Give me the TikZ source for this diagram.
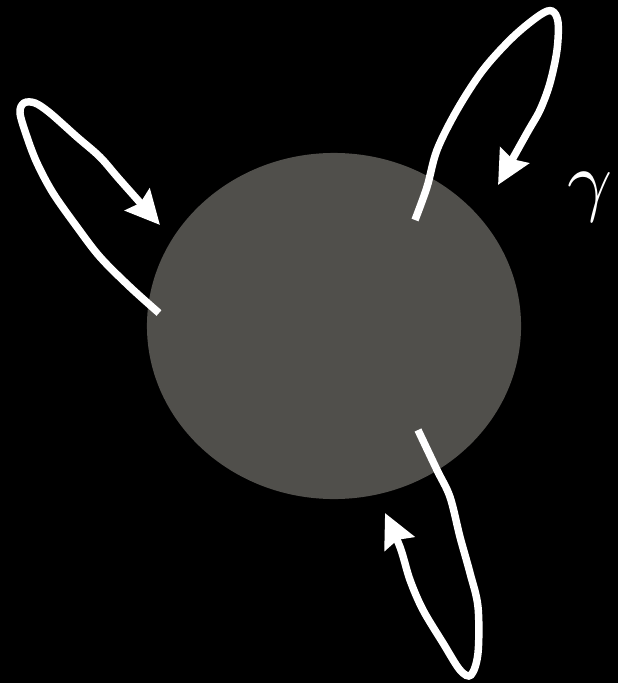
\documentclass[tikz,border=0pt]{standalone}
\usepackage{amsmath, amssymb}
\usepackage{graphicx}
\usepackage{tikz}
\usetikzlibrary{arrows.meta, shapes.geometric}

\definecolor{discgray}{RGB}{80,79,75}

\begin{document}
\begin{tikzpicture}[
    x=0.025cm, y=-0.025cm,
    disc/.style={ellipse, fill=discgray, draw=none,
      minimum width=9.35cm, minimum height=8.65cm, inner sep=0pt},
    loopline/.style={draw=white, line width=5.3pt, line cap=butt,
      -{Stealth[length=24pt, width=23pt, inset=3pt]}},
    lbl/.style={text=white, inner sep=0pt},
  ]
    % background and bounding box
    \fill[black] (0,0) rectangle (618,683);
    \useasboundingbox (0,0) rectangle (618,683);

    \node[disc] (body) at (334,326) {};
    \node[lbl] (gam) at (590,197) {\scalebox{5.6}{$\gamma$}};

    % left loop
    \draw[loopline] plot[smooth, tension=0.55] coordinates {
      (159,313) (130,287) (100,257) (77,227) (53,193) (37,163)
      (27,137) (20,113) (24,103) (35,103) (50,113) (77,137)
      (100,157) (120,180) (160,225)};

    % upper right loop
    \draw[loopline] plot[smooth, tension=0.55] coordinates {
      (415,220) (427,187) (437,150) (457,110) (483,70) (513,37)
      (540,15) (552,11) (558,22) (557,50) (550,83) (540,110)
      (527,133) (498,185)};

    % lower loop
    \draw[loopline] plot[smooth, tension=0.55] coordinates {
      (418,430) (437,470) (450,497) (460,537) (470,573) (478,607)
      (478,653) (471,675) (460,670) (443,643) (423,610) (410,580)
      (400,547) (385,513)};
\end{tikzpicture}
\end{document}
